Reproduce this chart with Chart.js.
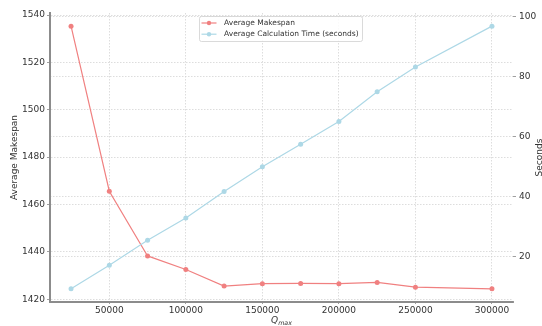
<!DOCTYPE html>
<html>
<head>
<meta charset="utf-8">
<script src="https://cdn.jsdelivr.net/npm/chart.js@4/dist/chart.umd.min.js"></script>
<style>
  html, body { margin: 0; padding: 0; background: #fff; }
  #wrap { width: 542px; height: 326px; }
</style>
</head>
<body>
<div id="wrap"><canvas id="c" width="542" height="326"></canvas></div>
<script>
// Q_max values tested and the two measured series
const qMax = [25000, 50000, 75000, 100000, 125000, 150000, 175000, 200000, 225000, 250000, 300000];
const avgMakespan = [1535.3, 1465.6, 1438.3, 1432.6, 1425.6, 1426.6, 1426.7, 1426.6, 1427.1, 1425.1, 1424.4];
const avgCalcSeconds = [9.1, 17.0, 25.3, 32.7, 41.6, 49.8, 57.3, 64.9, 74.8, 83.1, 96.7];

// Tick values for each axis
const xTicks = [50000, 100000, 150000, 200000, 250000, 300000];
const makespanTicks = [1420, 1440, 1460, 1480, 1500, 1520, 1540];
const secondsTicks = [20, 40, 60, 80, 100];

const seriesLabels = ['Average Makespan', 'Average Calculation Time (seconds)'];
const seriesColors = ['#F08080', '#ADD8E6'];
const yTitle = 'Average Makespan';
const y2Title = 'Seconds';
const xTitleBase = 'Q';
const xTitleSub = 'max';

const FONT = '"DejaVu Sans", "Liberation Sans", sans-serif';
const TEXT = '#333';
const GRID = '#d4d4d4';

// 5% breathing room around the data on each axis
function padded(vals) {
  const lo = Math.min(...vals), hi = Math.max(...vals), p = (hi - lo) * 0.05;
  return { min: lo - p, max: hi + p };
}
const xr = padded(qMax), yr = padded(avgMakespan), y2r = padded(avgCalcSeconds);

const toPoints = (ys) => qMax.map((x, i) => ({ x, y: ys[i] }));
const fixedTicks = (vals) => (scale) => { scale.ticks = vals.map(v => ({ value: v })); };

// Axis titles and the boxed legend inside the plot
const decorations = {
  id: 'decorations',
  afterDraw(chart) {
    const { ctx, chartArea: a } = chart;
    const midY = (a.top + a.bottom) / 2;
    const midX = (a.left + a.right) / 2;
    ctx.save();
    ctx.fillStyle = TEXT;
    ctx.font = '9px ' + FONT;
    ctx.textAlign = 'center';
    ctx.textBaseline = 'middle';

    ctx.save();
    ctx.translate(15, midY);
    ctx.rotate(-Math.PI / 2);
    ctx.fillText(yTitle, 0, 0);
    ctx.restore();

    ctx.save();
    ctx.translate(540, midY);
    ctx.rotate(-Math.PI / 2);
    ctx.fillText(y2Title, 0, 0);
    ctx.restore();

    // Q with "max" subscript
    ctx.textAlign = 'left';
    ctx.textBaseline = 'alphabetic';
    ctx.font = 'italic 9px ' + FONT;
    const wq = ctx.measureText(xTitleBase).width;
    ctx.font = 'italic 6.3px ' + FONT;
    const ws = ctx.measureText(xTitleSub).width;
    const x0 = midX - (wq + ws) / 2;
    ctx.font = 'italic 9px ' + FONT;
    ctx.fillText(xTitleBase, x0, 323);
    ctx.font = 'italic 6.3px ' + FONT;
    ctx.fillText(xTitleSub, x0 + wq, 325);

    // legend
    const bx = 199.5, by = 16.5, bw = 163, bh = 25;
    ctx.beginPath();
    ctx.roundRect(bx, by, bw, bh, 2);
    ctx.fillStyle = 'rgba(255,255,255,0.85)';
    ctx.fill();
    ctx.strokeStyle = '#d0d0d0';
    ctx.lineWidth = 0.8;
    ctx.stroke();
    ctx.font = '7.5px ' + FONT;
    ctx.textBaseline = 'middle';
    chart.data.datasets.forEach((ds, i) => {
      const ry = 23 + i * 11.2;
      ctx.strokeStyle = ds.borderColor;
      ctx.lineWidth = 1.2;
      ctx.beginPath();
      ctx.moveTo(201.5, ry);
      ctx.lineTo(216.5, ry);
      ctx.stroke();
      ctx.fillStyle = ds.borderColor;
      ctx.beginPath();
      ctx.arc(209, ry, 2.2, 0, Math.PI * 2);
      ctx.fill();
      ctx.fillStyle = TEXT;
      ctx.fillText(ds.label, 224, ry);
    });
    ctx.restore();
  }
};

new Chart(document.getElementById('c'), {
  type: 'line',
  data: {
    datasets: [
      {
        label: seriesLabels[0],
        data: toPoints(avgMakespan),
        yAxisID: 'y',
        borderColor: seriesColors[0],
        backgroundColor: seriesColors[0],
        borderWidth: 1.2,
        pointRadius: 2.5,
        pointBorderWidth: 0,
        order: 1
      },
      {
        label: seriesLabels[1],
        data: toPoints(avgCalcSeconds),
        yAxisID: 'y2',
        borderColor: seriesColors[1],
        backgroundColor: seriesColors[1],
        borderWidth: 1.2,
        pointRadius: 2.5,
        pointBorderWidth: 0,
        order: 0
      }
    ]
  },
  options: {
    responsive: false,
    animation: false,
    parsing: true,
    layout: { padding: { top: 13, left: 0, right: 0, bottom: 0 } },
    plugins: { legend: { display: false }, tooltip: { enabled: false } },
    scales: {
      x: {
        type: 'linear',
        min: xr.min,
        max: xr.max,
        afterBuildTicks: fixedTicks(xTicks),
        afterFit: (s) => { s.height = 24; },
        grid: { color: GRID, lineWidth: 0.8, tickLength: 2, tickColor: '#888', tickWidth: 0.8 },
        border: { display: true, color: '#8c8c8c', width: 2, dash: [1.5, 1.5] },
        ticks: { color: TEXT, font: { family: FONT, size: 9 }, padding: 1, maxRotation: 0, callback: (v) => String(v) }
      },
      y: {
        type: 'linear',
        position: 'left',
        min: yr.min,
        max: yr.max,
        afterBuildTicks: fixedTicks(makespanTicks),
        afterFit: (s) => { s.width = 50; },
        grid: { color: GRID, lineWidth: 0.8, tickLength: 3, tickColor: '#888', tickWidth: 0.8 },
        border: { display: true, color: '#8c8c8c', width: 2, dash: [1.5, 1.5] },
        ticks: { color: TEXT, font: { family: FONT, size: 9 }, padding: 2, callback: (v) => String(v) }
      },
      y2: {
        type: 'linear',
        position: 'right',
        min: y2r.min,
        max: y2r.max,
        afterBuildTicks: fixedTicks(secondsTicks),
        afterFit: (s) => { s.width = 29; },
        grid: { color: GRID, lineWidth: 0.8, tickLength: 3, tickColor: '#888', tickWidth: 0.8 },
        border: { display: false, dash: [1.5, 1.5] },
        ticks: { color: TEXT, font: { family: FONT, size: 9 }, padding: 3, callback: (v) => String(v) }
      }
    }
  },
  plugins: [decorations]
});
</script>
</body>
</html>
